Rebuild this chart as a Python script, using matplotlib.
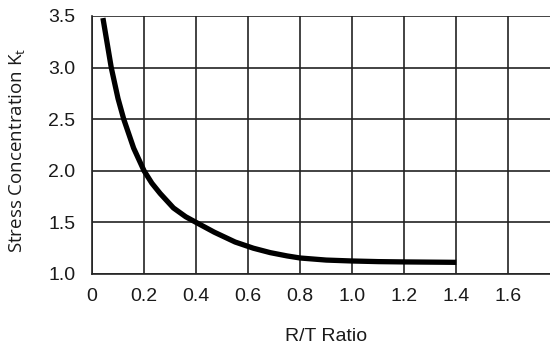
import matplotlib
matplotlib.use("Agg")
import matplotlib.pyplot as plt

# Valeurs
rt_ratio = [0.042, 0.058, 0.074, 0.10, 0.122, 0.16, 0.20, 0.23, 0.262, 0.313, 0.36, 0.40,
            0.47, 0.55, 0.62, 0.685, 0.75, 0.80, 0.90, 1.0, 1.1, 1.2, 1.3, 1.4]
kt = [3.48, 3.24, 3.0, 2.70, 2.5, 2.22, 2.0, 1.88, 1.78, 1.64, 1.555, 1.50,
      1.405, 1.31, 1.25, 1.207, 1.175, 1.155, 1.135, 1.126, 1.12, 1.117, 1.115, 1.113]
x_ticks = [0, 0.2, 0.4, 0.6, 0.8, 1.0, 1.2, 1.4, 1.6]
x_labels = ["0", "0.2", "0.4", "0.6", "0.8", "1.0", "1.2", "1.4", "1.6"]
y_ticks = [1.0, 1.5, 2.0, 2.5, 3.0, 3.5]
y_labels = ["1.0", "1.5", "2.0", "2.5", "3.0", "3.5"]

plt.rcParams['font.family'] = ['Liberation Sans', 'DejaVu Sans']
plt.rcParams['mathtext.fontset'] = 'custom'
plt.rcParams['mathtext.rm'] = 'Open Sans'

txt = "#1a1a1a"
fig = plt.figure(figsize=(5.5, 3.45), dpi=100)
ax = fig.add_axes([92 / 550, 1 - 274 / 345, 1 - 92 / 550, (274 - 16) / 345])

ax.plot(rt_ratio, kt, color="black", lw=3.8, solid_capstyle="butt",
        solid_joinstyle="round", zorder=3)

ax.set_xlim(0, 1.76)
ax.set_ylim(1.0, 3.5)
ax.set_xticks(x_ticks)
ax.set_xticklabels(x_labels)
ax.set_yticks(y_ticks)
ax.set_yticklabels(y_labels)
ax.grid(True, color="#222222", lw=1.2)
ax.tick_params(length=0, labelsize=14, colors=txt)
ax.tick_params(axis="x", pad=10)
ax.tick_params(axis="y", pad=12)
for s in ["top", "right"]:
    ax.spines[s].set_visible(False)
for s in ["left", "bottom"]:
    ax.spines[s].set_color("#222222")
    ax.spines[s].set_linewidth(1.2)

# Titres des axes
fig.text(18 / 550, 1 - 150 / 345, "Stress Concentration K$_\\mathregular{t}$",
         rotation=90, ha="center", va="center", fontsize=13.5,
         family=["Open Sans", "DejaVu Sans"], color=txt)
fig.text(326 / 550, 1 - 341 / 345, "R/T Ratio", ha="center", va="baseline",
         fontsize=14, color=txt)

fig.savefig("out.png", dpi=100)
